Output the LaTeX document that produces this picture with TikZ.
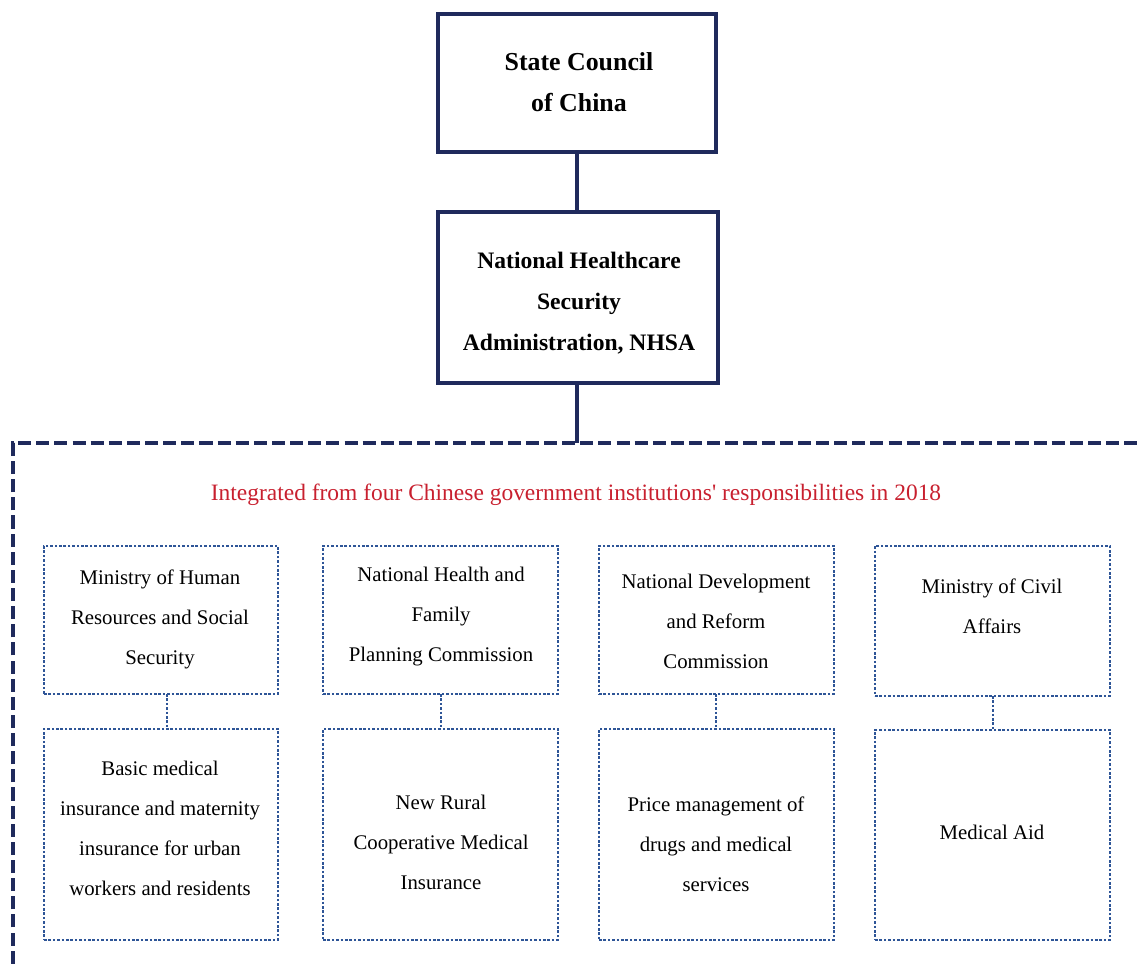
\documentclass[tikz,border=0pt]{standalone}
\usepackage{fontspec}
\setmainfont{Liberation Serif}
\definecolor{navy}{HTML}{1F2A5C}
\definecolor{dotblue}{HTML}{2E5597}
\definecolor{redtxt}{HTML}{C8202F}
\begin{document}
\begin{tikzpicture}[x=0.75pt,y=-0.75pt,
  mainbox/.style={draw=navy,line width=3.6pt,rectangle,inner sep=0pt,outer sep=0pt},
  dotbox/.style={draw=dotblue,line width=2pt,dash pattern=on 1.9pt off 1.4pt,rectangle,inner sep=0pt,outer sep=0pt},
  solidlink/.style={draw=navy,line width=3pt},
  dotlink/.style={draw=dotblue,line width=2pt,dash pattern=on 1.9pt off 1.4pt},
  boldtxt/.style={align=center,inner sep=0pt,font=\fontsize{17.7pt}{30.75pt}\selectfont\bfseries},
  bigbold/.style={align=center,inner sep=0pt,font=\fontsize{19.4pt}{30.75pt}\selectfont\bfseries},
  normtxt/.style={align=center,inner sep=0pt,font=\fontsize{15.6pt}{30pt}\selectfont},
  redtitle/.style={align=center,inner sep=0pt,text=redtxt,font=\fontsize{17.6pt}{30pt}\selectfont}]
\useasboundingbox (0,0) rectangle (1141,968);
% main boxes
\node[mainbox,minimum width=278*0.75pt,minimum height=138*0.75pt] (A) at (577,83) {};
\node[mainbox,minimum width=280*0.75pt,minimum height=171*0.75pt] (B) at (578,297.5) {};
\node[bigbold] (At) at (579,82) {State Council\\of China};
\node[boldtxt] (Bt) at (579,303) {National Healthcare\\Security\\Administration, NHSA};
\coordinate (k0) at (577,0);
\draw[solidlink] (A.south -| k0) -- (B.north -| k0);
% dashed frame
\coordinate (f1) at (13,1000);
\coordinate (f2) at (13,443);
\coordinate (f3) at (1200,443);
\coordinate (k00) at (577,443);
\draw[solidlink] (B.south -| k0) -- (k00);
\draw[navy,line width=3.2pt,dash pattern=on 9.8pt off 3.8pt] (f1) -- (f2) -- (f3);
% red title
\node[redtitle] (title) at (576,495) {Integrated from four Chinese government institutions\textquotesingle\ responsibilities in 2018};
% row 1
\node[dotbox,minimum width=234*0.75pt,minimum height=148*0.75pt] (c1) at (161,620) {};
\node[dotbox,minimum width=235*0.75pt,minimum height=148*0.75pt] (c2) at (440.5,620) {};
\node[dotbox,minimum width=235*0.75pt,minimum height=148*0.75pt] (c3) at (716.5,620) {};
\node[dotbox,minimum width=235*0.75pt,minimum height=150*0.75pt] (c4) at (992.5,621) {};
% row 2
\node[dotbox,minimum width=234*0.75pt,minimum height=211*0.75pt] (d1) at (161,834.5) {};
\node[dotbox,minimum width=235*0.75pt,minimum height=211*0.75pt] (d2) at (440.5,834.5) {};
\node[dotbox,minimum width=235*0.75pt,minimum height=211*0.75pt] (d3) at (716.5,834.5) {};
\node[dotbox,minimum width=235*0.75pt,minimum height=210*0.75pt] (d4) at (992.5,835) {};
% texts
\node[normtxt] (c1t) at (160,619) {Ministry of Human\\Resources and Social\\Security};
\node[normtxt] (c2t) at (441,617) {National Health and\\Family\\Planning Commission};
\node[normtxt] (c3t) at (716,621) {National Development\\and Reform\\Commission};
\node[normtxt] (c4t) at (992,606) {Ministry of Civil\\Affairs};
\node[normtxt] (d1t) at (160,828) {Basic medical\\insurance and maternity\\insurance for urban\\workers and residents};
\node[normtxt] (d2t) at (441,842) {New Rural\\Cooperative Medical\\Insurance};
\node[normtxt] (d3t) at (716,844) {Price management of\\drugs and medical\\services};
\node[normtxt] (d4t) at (992,832) {Medical Aid};
% dotted links
\coordinate (k1) at (167,0);
\coordinate (k2) at (441,0);
\coordinate (k3) at (716,0);
\coordinate (k4) at (993,0);
\draw[dotlink] (c1.south -| k1) -- (d1.north -| k1);
\draw[dotlink] (c2.south -| k2) -- (d2.north -| k2);
\draw[dotlink] (c3.south -| k3) -- (d3.north -| k3);
\draw[dotlink] (c4.south -| k4) -- (d4.north -| k4);
\end{tikzpicture}
\end{document}
